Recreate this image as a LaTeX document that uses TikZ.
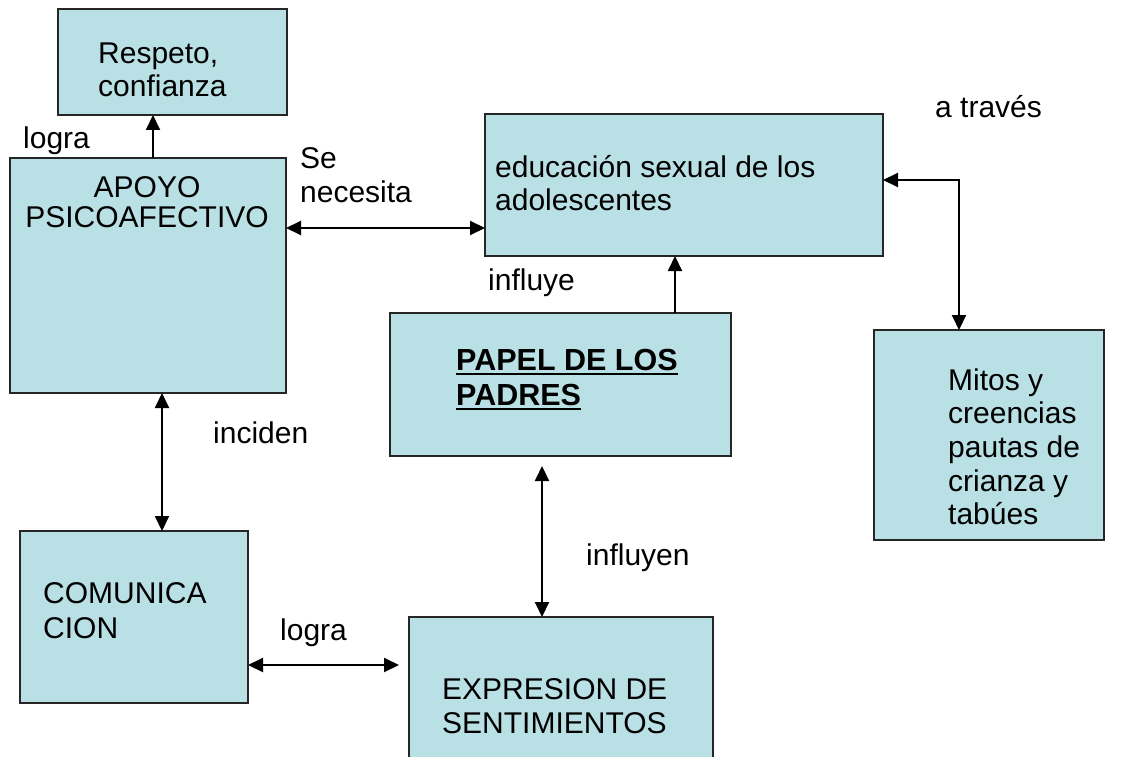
\documentclass[tikz,border=0pt]{standalone}
\usepackage{fontspec}
\setmainfont{Liberation Sans}
\usetikzlibrary{arrows.meta,calc}
\definecolor{boxfill}{RGB}{185,224,228}
\begin{document}
\begin{tikzpicture}[x=1pt,y=-1pt,
  box/.style={draw=black!85, line width=1.4pt, fill=boxfill, anchor=north west, inner sep=0pt, outer sep=0pt},
  txt/.style={anchor=base west, inner sep=0pt, font=\fontsize{30}{34}\selectfont},
  ctxt/.style={anchor=base, inner sep=0pt, font=\fontsize{30}{34}\selectfont},
  btxt/.style={anchor=base west, inner sep=0pt, font=\fontsize{30.5}{34}\selectfont\bfseries},
  tip/.tip={Triangle[length=15pt,width=14pt]},
  oneway/.style={line width=2pt, -tip},
  twoway/.style={line width=2pt, tip-tip}
]
\useasboundingbox (0,0) rectangle (1148,757);

% boxes
\node[box, minimum width=229, minimum height=106] (resp) at (58,9) {};
\node[box, minimum width=276, minimum height=235] (apoyo) at (10,158) {};
\node[box, minimum width=398, minimum height=142] (edu) at (485,114) {};
\node[box, minimum width=341, minimum height=143] (papel) at (390,313) {};
\node[box, minimum width=230, minimum height=210] (mitos) at (874,330) {};
\node[box, minimum width=228, minimum height=172] (comu) at (20,531) {};
\node[box, minimum width=304, minimum height=170] (expr) at (409,617) {};

% box texts
\node[txt] (t1a) at (98,64) {Respeto,};
\node[txt] (t1b) at (98,97) {confianza};
\node[ctxt] (t2a) at (147,197) {APOYO};
\node[ctxt] (t2b) at (147,227) {PSICOAFECTIVO};
\node[txt] (t3a) at (495,177) {educación sexual de los};
\node[txt] (t3b) at (495,210) {adolescentes};
\node[btxt] (t4a) at (456,370) {PAPEL DE LOS};
\node[btxt] (t4b) at (456,405) {PADRES};
\draw[line width=2.8pt] ($(t4a.base west)+(0,4)$) -- ($(t4a.base east)+(0,4)$);
\draw[line width=2.8pt] ($(t4b.base west)+(0,4)$) -- ($(t4b.base east)+(0,4)$);
\node[txt] (t5a) at (948,390) {Mitos y};
\node[txt] (t5b) at (948,423) {creencias};
\node[txt] (t5c) at (948,457) {pautas de};
\node[txt] (t5d) at (948,491) {crianza y};
\node[txt] (t5e) at (948,524) {tabúes};
\node[txt] (t6a) at (43,603) {COMUNICA};
\node[txt] (t6b) at (43,638) {CION};
\node[txt] (t7a) at (442,699) {EXPRESION DE};
\node[txt] (t7b) at (442,733) {SENTIMIENTOS};

% connector labels
\node[txt] (l1) at (23,148) {logra};
\node[txt] (l2a) at (300,168) {Se};
\node[txt] (l2b) at (300,202) {necesita};
\node[txt] (l3) at (488,290) {influye};
\node[txt] (l4) at (935,118) {a través};
\node[txt] (l5) at (213,443) {inciden};
\node[txt] (l6) at (586,565) {influyen};
\node[txt] (l7) at (280,640) {logra};

% connectors
\draw[oneway] ($(apoyo.north west)+(143,0)$) -- ($(resp.south west)+(95,0)$);
\draw[twoway] ($(apoyo.north east)+(0,70)$) -- ($(edu.north west)+(0,114)$);
\draw[oneway] ($(papel.north west)+(285,0)$) -- ($(edu.south west)+(190,0)$);
\draw[twoway] ($(edu.north east)+(0,66)$) -| ($(mitos.north west)+(85,0)$);
\draw[twoway] ($(apoyo.south west)+(152,0)$) -- ($(comu.north west)+(142,0)$);
\coordinate (pb) at ($(papel.south west)+(152,10)$);
\draw[twoway] (pb) -- ($(expr.north west)+(133,0)$);
\coordinate (ce) at ($(expr.north west)+(-10,48)$);
\draw[twoway] ($(comu.north east)+(0,134)$) -- (ce);
\end{tikzpicture}
\end{document}
